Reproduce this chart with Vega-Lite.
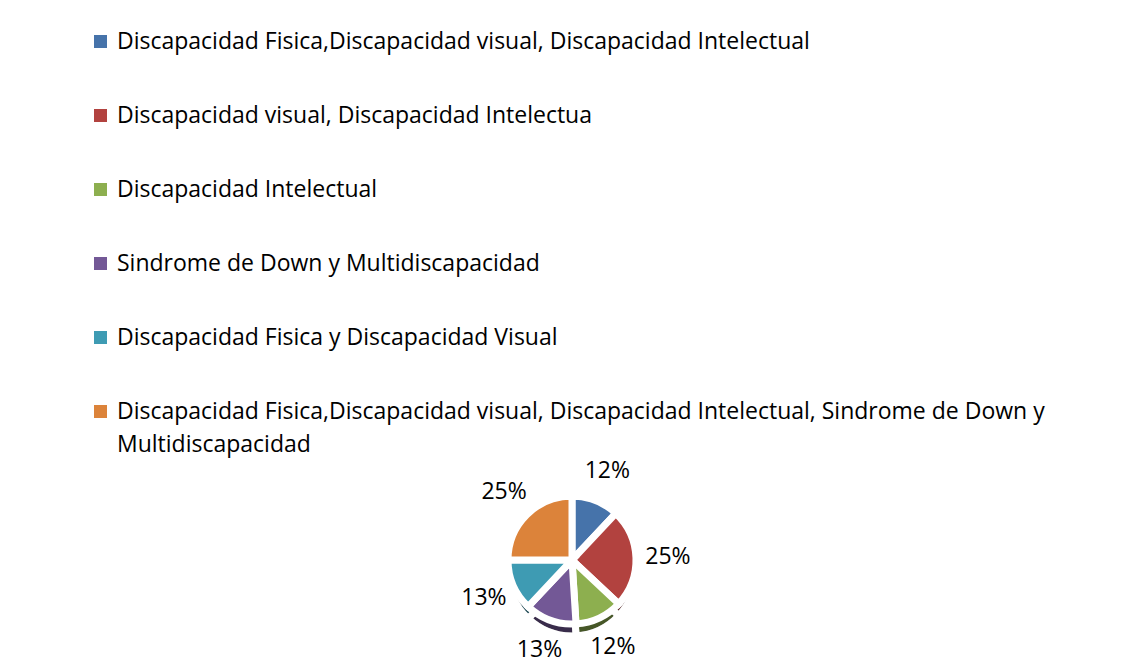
{
  "$schema": "https://vega.github.io/schema/vega-lite/v6.json",
  "autosize": {"type": "none"},
  "width": 240,
  "height": 200,
  "padding": {"left": 452, "top": 460, "right": 437, "bottom": 11},
  "background": "white",
  "config": {"view": {"stroke": null}, "font": "Open Sans", "style": {"guide-label": {"lineHeight": 33}}},
  "data": {"values": [
    {"idx": 1, "category": "Discapacidad Fisica,Discapacidad visual, Discapacidad Intelectual", "value": 12, "label": "12%"},
    {"idx": 2, "category": "Discapacidad visual, Discapacidad Intelectua", "value": 25, "label": "25%"},
    {"idx": 3, "category": "Discapacidad Intelectual", "value": 12, "label": "12%"},
    {"idx": 4, "category": "Sindrome de Down y Multidiscapacidad", "value": 13, "label": "13%"},
    {"idx": 5, "category": "Discapacidad Fisica y Discapacidad Visual", "value": 13, "label": "13%"},
    {"idx": 6, "category": "Discapacidad Fisica,Discapacidad visual, Discapacidad Intelectual, Sindrome de Down y Multidiscapacidad", "value": 25, "label": "25%"}
  ]},
  "encoding": {
    "theta": {"field": "value", "type": "quantitative", "stack": true},
    "order": {"field": "idx", "type": "quantitative"},
    "color": {
      "field": "category",
      "type": "nominal",
      "sort": {"field": "idx"},
      "scale": {
        "domain": [
          "Discapacidad Fisica,Discapacidad visual, Discapacidad Intelectual",
          "Discapacidad visual, Discapacidad Intelectua",
          "Discapacidad Intelectual",
          "Sindrome de Down y Multidiscapacidad",
          "Discapacidad Fisica y Discapacidad Visual",
          "Discapacidad Fisica,Discapacidad visual, Discapacidad Intelectual, Sindrome de Down y Multidiscapacidad"
        ],
        "range": ["#4673aa", "#b2423f", "#8daf4f", "#735896", "#3e9bb3", "#dc833a"]
      },
      "legend": {
        "title": null,
        "orient": "none",
        "legendX": -363,
        "legendY": -430,
        "direction": "vertical",
        "padding": 0,
        "symbolType": "square",
        "symbolSize": 170,
        "symbolStrokeWidth": 0,
        "labelFont": "Open Sans",
        "labelFontSize": 23,
        "labelColor": "#000000",
        "labelLimit": 1100,
        "labelOffset": 5,
        "rowPadding": 50,
        "labelExpr": "datum.label == 'Discapacidad Fisica,Discapacidad visual, Discapacidad Intelectual, Sindrome de Down y Multidiscapacidad' ? ['Discapacidad Fisica,Discapacidad visual, Discapacidad Intelectual, Sindrome de Down y', 'Multidiscapacidad'] : datum.label"
      }
    }
  },
  "layer": [
    {
      "mark": {"type": "arc", "outerRadius": 64, "stroke": "white", "strokeWidth": 7, "yOffset": 12}
    },
    {
      "mark": {"type": "arc", "outerRadius": 64, "stroke": "white", "strokeWidth": 7, "yOffset": 12, "fill": "#000000", "fillOpacity": 0.5},
      "encoding": {"color": {"value": "#000000"}}
    },
    {
      "mark": {"type": "arc", "outerRadius": 64, "stroke": "white", "strokeWidth": 7}
    },
    {
      "mark": {"type": "text", "radius": 96, "fontSize": 23, "font": "Open Sans", "color": "#000000"},
      "encoding": {"text": {"field": "label", "type": "nominal"}, "color": {"value": "#000000"}}
    }
  ]
}
